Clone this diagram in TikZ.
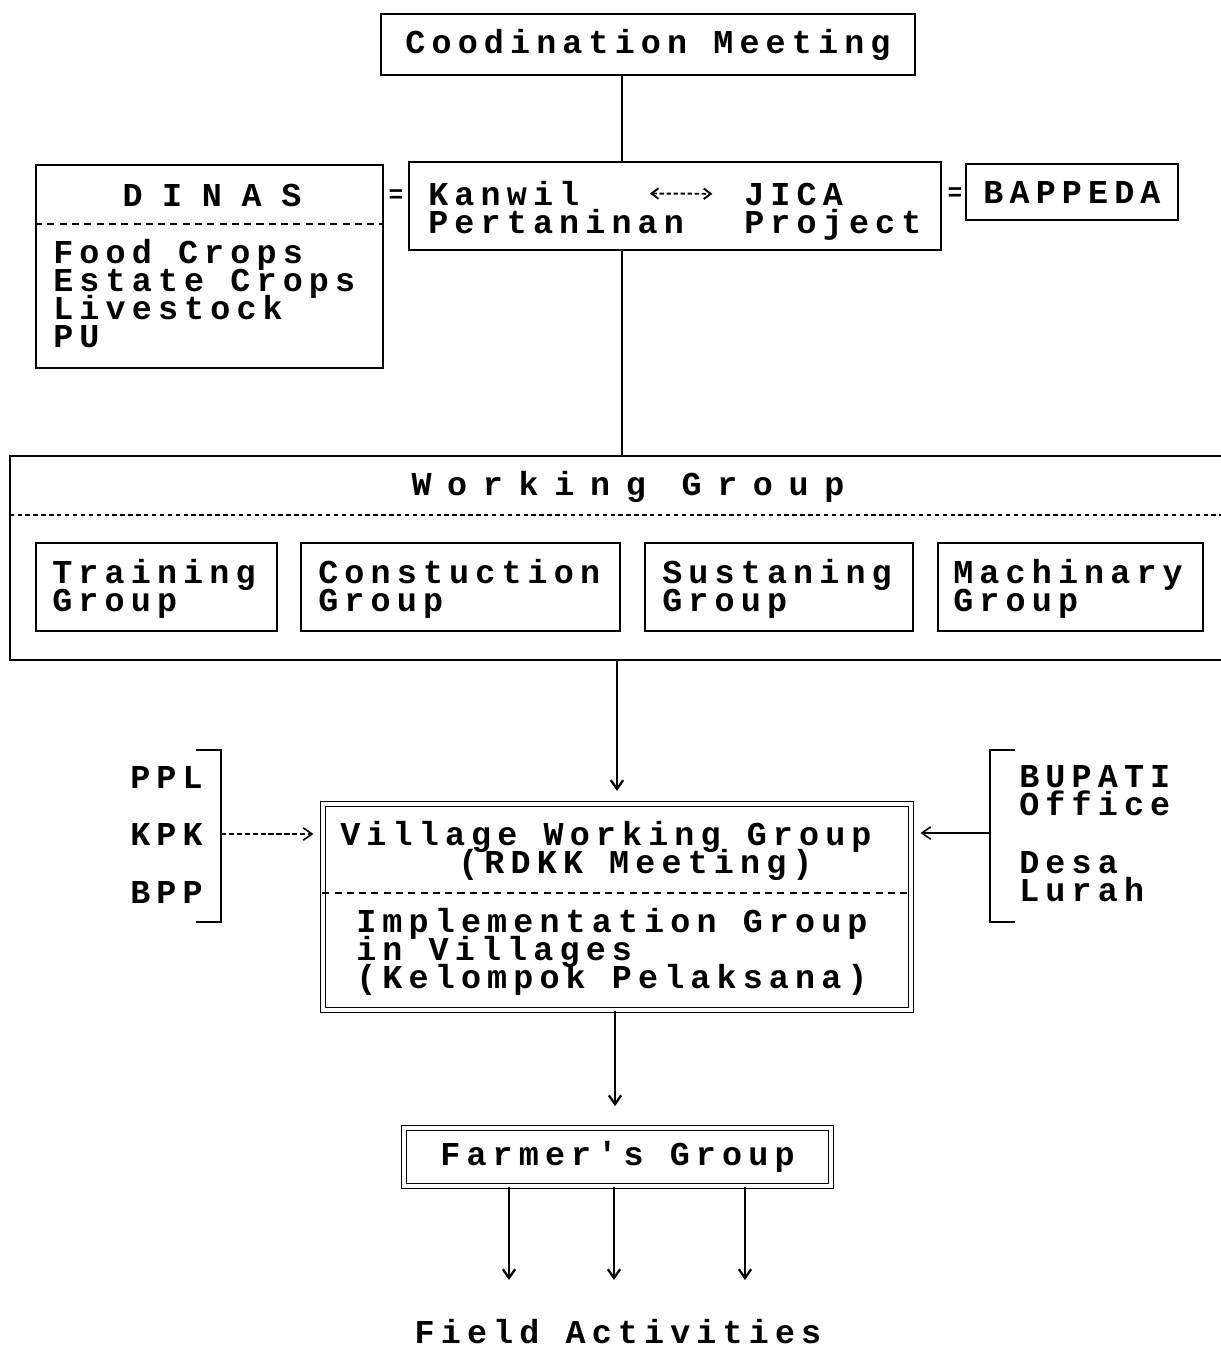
\documentclass[tikz,border=0pt]{standalone}
\usepackage{fontspec}
\newfontfamily\dotfont[LetterSpace=18.4]{Liberation Mono}
\newfontfamily\widefont[LetterSpace=47]{Liberation Mono}
\newfontfamily\dinasfont[LetterSpace=59]{Liberation Mono}
\usetikzlibrary{arrows.meta,positioning}
\newdimen\pxu \pxu=0.02cm
\newcommand\tightlines{\lineskiplimit=-100pt\relax\lineskip=0pt\relax}
\tikzstyle{bx} = [rectangle, draw, line width=1pt, inner sep=0pt]
\tikzstyle{dbl} = [rectangle, draw, line width=0.9pt, double, double distance=1.8pt, inner sep=0pt]
\tikzstyle{lbl} = [inner sep=0pt, align=left, font=\dotfont\bfseries\fontsize{19}{15.9}\selectfont\tightlines]
\tikzstyle{sep} = [line width=0.9pt, dash pattern=on 4pt off 3pt]
\tikzstyle{line} = [line width=1.3pt]
\tikzstyle{arr} = [->, line width=1.3pt]

\begin{document}
\begin{tikzpicture}[x=0.02cm, y=-0.02cm, >={Straight Barb[length=5pt,width=7pt]}]
  \useasboundingbox (0,0) rectangle (1221,1350);

  % top level
  \node[bx, minimum width=534*\pxu, minimum height=61*\pxu, lbl] (cm) at (648,44.5) {Coodination Meeting};
  \node[bx, minimum width=532*\pxu, minimum height=88*\pxu] (kw) at (675,206) {};
  \node[lbl, anchor=base west] (kw1) at (428,205) {Kanwil};
  \node[lbl, anchor=base west] (kw2) at (428,233) {Pertaninan};
  \node[lbl, anchor=base west] (jc1) at (744,205) {JICA};
  \node[lbl, anchor=base west] (jc2) at (744,233) {Project};
  \node[bx, minimum width=347*\pxu, minimum height=203*\pxu] (dn) at (209.5,266.5) {};
  \node[lbl, anchor=base, font=\dinasfont\bfseries\fontsize{19}{15.9}\selectfont] (dn1) at (212,206) {DINAS};
  \node[lbl, anchor=base west] (dn2) at (53,347) {Food Crops\\Estate Crops\\Livestock\\PU};
  \node[bx, minimum width=212*\pxu, minimum height=56*\pxu, lbl] (bp) at (1072,192) {BAPPEDA};
  \node[lbl, font=\dotfont\bfseries\fontsize{14}{14}\selectfont] (eq1) at (396,196) {=};
  \node[lbl, font=\dotfont\bfseries\fontsize{14}{14}\selectfont] (eq2) at (955,194) {=};

  % working group
  \node[minimum width=1211*\pxu, minimum height=204*\pxu, inner sep=0pt] (wg) at (615.5,558) {};
  \draw[line width=1pt] (wg.north east) -- (wg.north west) -- (wg.south west) -- (wg.south east);
  \node[lbl, anchor=base, font=\widefont\bfseries\fontsize{19}{15.9}\selectfont] (wg1) at (628,495) {Working Group};
  \node[bx, minimum width=241*\pxu, minimum height=88*\pxu] (tg) at (156.5,587) {};
  \node[bx, minimum width=319*\pxu, minimum height=88*\pxu] (cg) at (460.5,587) {};
  \node[bx, minimum width=268*\pxu, minimum height=88*\pxu] (sg) at (779,587) {};
  \node[bx, minimum width=265*\pxu, minimum height=88*\pxu] (mg) at (1070.5,587) {};
  \node[lbl, anchor=base west] (tg1) at (52,611) {Training\\Group};
  \node[lbl, anchor=base west] (cg1) at (318,611) {Constuction\\Group};
  \node[lbl, anchor=base west] (sg1) at (662,611) {Sustaning\\Group};
  \node[lbl, anchor=base west] (mg1) at (953,611) {Machinary\\Group};

  % village level
  \node[dbl, minimum width=588*\pxu, minimum height=206*\pxu] (vg) at (617,907) {};
  \node[lbl, anchor=base west] (vg1) at (340,845) {Village Working Group};
  \node[lbl, anchor=base west] (vg2) at (458,873) {(RDKK Meeting)};
  \node[lbl, anchor=base west] (vg3) at (356,988) {Implementation Group\\in Villages\\(Kelompok Pelaksana)};
  \node[lbl, anchor=base west] (pp1) at (130,788) {PPL};
  \node[lbl, anchor=base west] (pp2) at (130,845) {KPK};
  \node[lbl, anchor=base west] (pp3) at (130,903) {BPP};
  \node[lbl, anchor=base west] (bu) at (1019,815) {BUPATI\\Office};
  \node[lbl, anchor=base west] (de) at (1019,901) {Desa\\Lurah};
  \node[dbl, minimum width=427*\pxu, minimum height=58*\pxu, lbl] (fg) at (617.5,1157) {Farmer's Group};
  \node[lbl, anchor=base] (fa) at (618,1343) {Field Activities};

  \draw[line width=1pt] (196,750) -- (221,750) -- (221,922) -- (196,922);
  \draw[line width=1pt] (1015,750) -- (990,750) -- (990,922) -- (1015,922);
  \draw[sep] (dn.west |- 0,224) -- (dn.east |- 0,224);
  \draw[line width=0.9pt, dash pattern=on 2.5pt off 2pt] (wg.west |- 0,515) -- (wg.east |- 0,515);
  \draw[sep] (vg.west |- 0,893) -- (vg.east |- 0,893);

  % connectors
  \coordinate (sp) at (622,0);
  \coordinate (lb) at (221,834);
  \coordinate (rb) at (990,833);
  \draw[line] (cm.south -| sp) -- (kw.north -| sp);
  \draw[line] (kw.south -| sp) -- (wg.north -| sp);
  \draw[arr, shorten >=7pt] (wg.south -| 617,0) -- (vg.north -| 617,0);
  \draw[arr, shorten >=12pt] (vg.south -| 615,0) -- (fg.north -| 615,0);
  \draw[{Straight Barb[length=4pt,width=6pt]}-{Straight Barb[length=4pt,width=6pt]}, line width=1.1pt, dash pattern=on 2.5pt off 1.5pt, shorten <=40pt, shorten >=18pt] (kw1.east) -- (jc1.west);
  \draw[->, line width=0.9pt, dash pattern=on 3pt off 1.5pt, shorten >=5pt] (lb) -- (vg.west |- lb);
  \draw[->, line width=0.9pt, shorten >=5pt] (rb) -- (vg.east |- rb);
  \foreach \x in {509,614,745} {
    \coordinate (t) at (\x,1280);
    \draw[arr] (fg.south -| t) -- (t);
  }
\end{tikzpicture}
\end{document}
